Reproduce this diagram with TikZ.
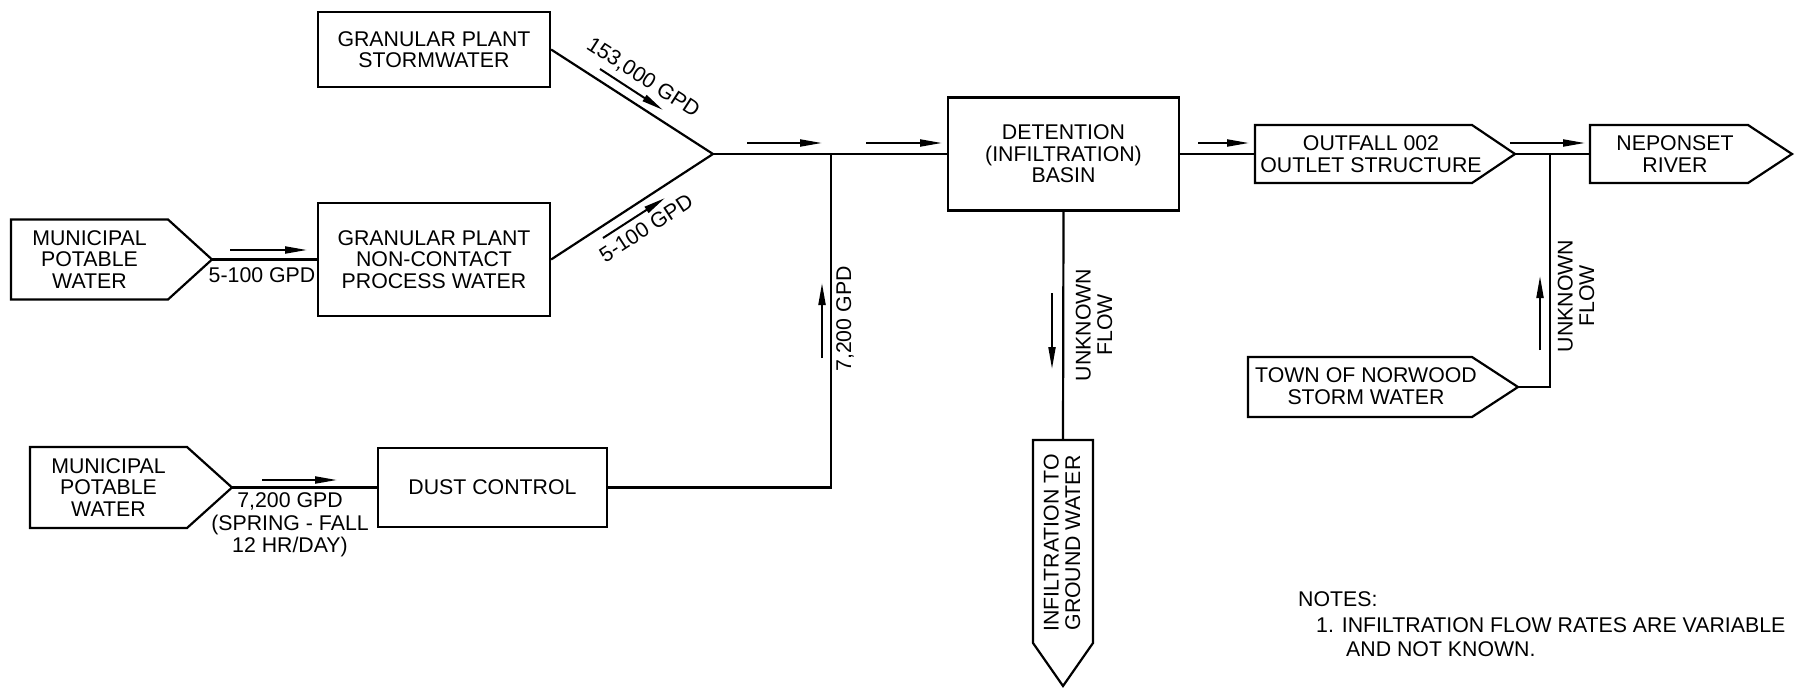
\documentclass[tikz,border=0pt]{standalone}
\usepackage{fontspec}
\setmainfont{Liberation Sans}
\usetikzlibrary{arrows.meta}
\newcommand\dfont{\fontsize{21.3}{21.5}\selectfont}
\newcommand\dfontb{\fontsize{21.3}{22.5}\selectfont}
\begin{document}
\begin{tikzpicture}[x=1pt,y=-1pt,
  every node/.style={font=\dfont, inner sep=0pt, align=center},
  box/.style={draw, line width=2.2pt},
  ln/.style={line width=2.2pt},
  fl/.style={line width=2pt, -{Triangle[length=22pt,width=7pt]}}]
\useasboundingbox (0,0) rectangle (1796,688);

% boxes
\node[box, minimum width=232, minimum height=75] (storm) at (434,49.5) {GRANULAR PLANT\\STORMWATER};
\node[box, minimum width=232, minimum height=113] (proc) at (434,259.5) {GRANULAR PLANT\\NON-CONTACT\\PROCESS WATER};
\node[box, minimum width=229, minimum height=79] (dust) at (492.5,487.5) {DUST CONTROL};
\node[box, minimum width=231, minimum height=113] (det) at (1063.5,154) {DETENTION\\(INFILTRATION)\\BASIN};

% pentagon shapes
\draw[ln] (11,219.5) -- (168,219.5) -- (212,259.5) coordinate (m1tip) -- (168,299.5) -- (11,299.5) -- cycle;
\node (m1) at (89.5,259.5) {MUNICIPAL\\POTABLE\\WATER};
\draw[ln] (30,447) -- (187,447) -- (232,487.5) coordinate (m2tip) -- (187,528) -- (30,528) -- cycle;
\node (m2) at (108.5,487.5) {MUNICIPAL\\POTABLE\\WATER};
\draw[ln] (1255,154) coordinate (ofwest) -- (1255,125) -- (1472,125) -- (1515,154) coordinate (oftip) -- (1472,183) -- (1255,183) -- cycle;
\node (of) at (1371,154) {OUTFALL 002\\OUTLET STRUCTURE};
\draw[ln] (1590,154) coordinate (npwest) -- (1590,125) -- (1748,125) -- (1792,154) -- (1748,183) -- (1590,183) -- cycle;
\node (np) at (1675,154) {NEPONSET\\RIVER};
\draw[ln] (1248,357) -- (1472,357) -- (1518,387) coordinate (nwtip) -- (1472,417) -- (1248,417) -- cycle;
\node (nw) at (1366,386) {TOWN OF NORWOOD\\STORM WATER};
\draw[ln] (1063,440) coordinate (inftop) -- (1093,440) -- (1093,643) -- (1063,686) -- (1033,643) -- (1033,440) -- cycle;
\node[rotate=90] (inf) at (1062,543) {INFILTRATION TO\\GROUND WATER};

% connectors
\coordinate (J) at (713,154);
\coordinate (T1) at (831,154);
\coordinate (T2) at (1550,154);
\draw[ln] (storm.east) -- (J);
\draw[ln] (proc.east) -- (J);
\draw[ln] (J) -- (det.west);
\draw[ln] (m1tip) -- (proc.west);
\draw[ln] (m2tip) -- (dust.west);
\draw[ln] (dust.east) -| (T1);
\draw[ln] (det.south) -- (inftop);
\draw[ln] (det.east) -- (ofwest);
\draw[ln] (oftip) -- (npwest);
\draw[ln] (nwtip) -| (T2);

% flow arrows
\draw[fl] (230,250) -- (307,250);
\draw[fl] (600,69) -- (663,110);
\draw[fl] (603,238) -- (665,198);
\draw[fl] (747,143) -- (822,143);
\draw[fl] (866,143) -- (942,143);
\draw[fl] (822,358) -- (822,283);
\draw[fl] (262,480) -- (337,480);
\draw[fl] (1198,143) -- (1249,143);
\draw[fl] (1510,143) -- (1585,143);
\draw[fl] (1052,293) -- (1052,369);
\draw[fl] (1540,350) -- (1540,276);

% labels
\node (l1) at (262,275) {5-100 GPD};
\node[rotate=-32.8] (l2) at (643,78) {153,000 GPD};
\node[rotate=33] (l3) at (646,228) {5-100 GPD};
\node[rotate=90] (l4) at (845,319) {7,200 GPD};
\node[rotate=90] (l5) at (1094,325) {UNKNOWN\\FLOW};
\node[rotate=90] (l6) at (1576,296) {UNKNOWN\\FLOW};
\node[font=\dfontb] (l7) at (290,525) {7,200 GPD\\(SPRING - FALL\\12 HR/DAY)};

% notes
\node[anchor=base west] (n0) at (1298,606.5) {NOTES:};
\node[anchor=base west] (n1) at (1316,632.5) {1. INFILTRATION FLOW RATES ARE VARIABLE};
\node[anchor=base west] (n2) at (1346,656) {AND NOT KNOWN.};
\end{tikzpicture}
\end{document}
